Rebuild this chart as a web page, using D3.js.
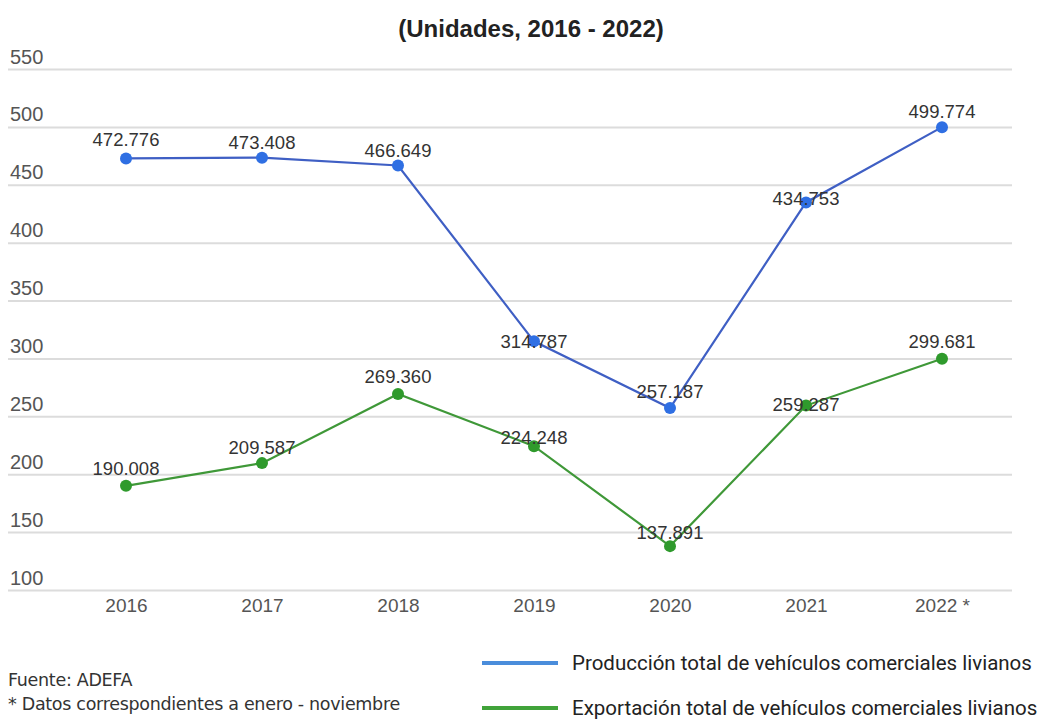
<!DOCTYPE html>
<html>
<head>
<meta charset="utf-8">
<script src="https://cdn.jsdelivr.net/npm/d3@7"></script>
<style>
    body { margin: 0; background: #fff; }
    svg { display: block; font-family: "Liberation Sans", Arial, sans-serif; }
    .grid line { stroke: #dcdcdc; stroke-width: 2; }
    .grid text { fill: #555; font-size: 20px; }
    .xaxis text { fill: #555; font-size: 19px; }
    .lbl { font-size: 18.5px; fill: #333; }
    .legend text { font-family: Roboto, sans-serif; font-size: 20.5px; fill: #222; }
    .foot { font-family: "DejaVu Sans", sans-serif; font-size: 17.5px; fill: #333; letter-spacing: -0.3px; }
</style>
</head>
<body>
<div id="chart"></div>
<script>
// Datos (ADEFA), unidades
var years = ['2016', '2017', '2018', '2019', '2020', '2021', '2022 *'];
var produccion = [472776, 473408, 466649, 314787, 257187, 434753, 499774];
var exportacion = [190008, 209587, 269360, 224248, 137891, 259287, 299681];
var yTicks = [100, 150, 200, 250, 300, 350, 400, 450, 500, 550];
var seriesNames = [
    'Producción total de vehículos comerciales livianos',
    'Exportación total de vehículos comerciales livianos'
];

// label nudges (px, baseline relative to dot)
var prodLabelDy = [-12, -9, -9, 7, -10, 3, -9];
var expLabelDy = [-11, -9, -11, -2, -7, 5, -11];

const W = 1052, H = 720;
var es = d3.formatLocale({ decimal: ',', thousands: '.', grouping: [3], currency: ['$', ''] });
var fmt = es.format(',');

var svg = d3.select('#chart').append('svg')
    .attr('width', W)
    .attr('height', H);

var x = d3.scalePoint().domain(years).range([126, 942]);
var y = d3.scaleLinear().domain([100, 550]).range([590, 69]);

svg.append('text')
    .attr('x', 531)
    .attr('y', 37)
    .attr('text-anchor', 'middle')
    .style('font-weight', 'bold')
    .style('font-size', '24px')
    .style('fill', '#222')
    .text('(Unidades, 2016 - 2022)');

// gridlines with labels above
var grid = svg.append('g')
    .attr('class', 'grid')
    .attr('transform', 'translate(8,0)')
    .call(d3.axisRight(y).tickValues(yTicks).tickSize(1004));
grid.select('.domain').remove();
grid.selectAll('text')
    .attr('x', 2)
    .attr('dy', -6)
    .attr('text-anchor', 'start');

var xAxis = svg.append('g')
    .attr('class', 'xaxis')
    .attr('transform', 'translate(0,590)')
    .call(d3.axisBottom(x).tickSize(0).tickPadding(9));
xAxis.select('.domain').remove();

var series = [
    { vals: produccion, line: '#3f5fc4', dot: '#2f6fe3', dy: prodLabelDy },
    { vals: exportacion, line: '#3f9838', dot: '#2f9a2c', dy: expLabelDy }
];

var line = d3.line()
    .x((d, i) => x(years[i]))
    .y(d => y(d / 1000));

series.forEach(function (s) {
    var g = svg.append('g');
    g.append('path')
        .datum(s.vals)
        .attr('d', line)
        .attr('fill', 'none')
        .attr('stroke', s.line)
        .attr('stroke-width', 2.2);
    g.selectAll('circle')
        .data(s.vals)
        .enter().append('circle')
        .attr('cx', (d, i) => x(years[i]))
        .attr('cy', d => y(d / 1000))
        .attr('r', 6)
        .attr('fill', s.dot);
    g.selectAll('text')
        .data(s.vals)
        .enter().append('text')
        .attr('class', 'lbl')
        .attr('x', (d, i) => x(years[i]))
        .attr('y', (d, i) => y(d / 1000) + s.dy[i])
        .attr('text-anchor', 'middle')
        .text(d => fmt(d));
});

// legend
var legend = svg.append('g').attr('class', 'legend');
var legColors = ['#4a8ddb', '#41a33a'];
seriesNames.forEach(function (name, i) {
    var ly = 663 + i * 45;
    legend.append('line')
        .attr('x1', 482).attr('x2', 558)
        .attr('y1', ly).attr('y2', ly)
        .attr('stroke', legColors[i])
        .attr('stroke-width', 4);
    legend.append('text')
        .attr('x', 572)
        .attr('y', ly + 7)
        .text(name);
});

svg.append('text').attr('class', 'foot')
    .attr('x', 8).attr('y', 686)
    .text('Fuente: ADEFA');
svg.append('text').attr('class', 'foot')
    .attr('x', 8).attr('y', 710)
    .text('* Datos correspondientes a enero - noviembre');
</script>
</body>
</html>
